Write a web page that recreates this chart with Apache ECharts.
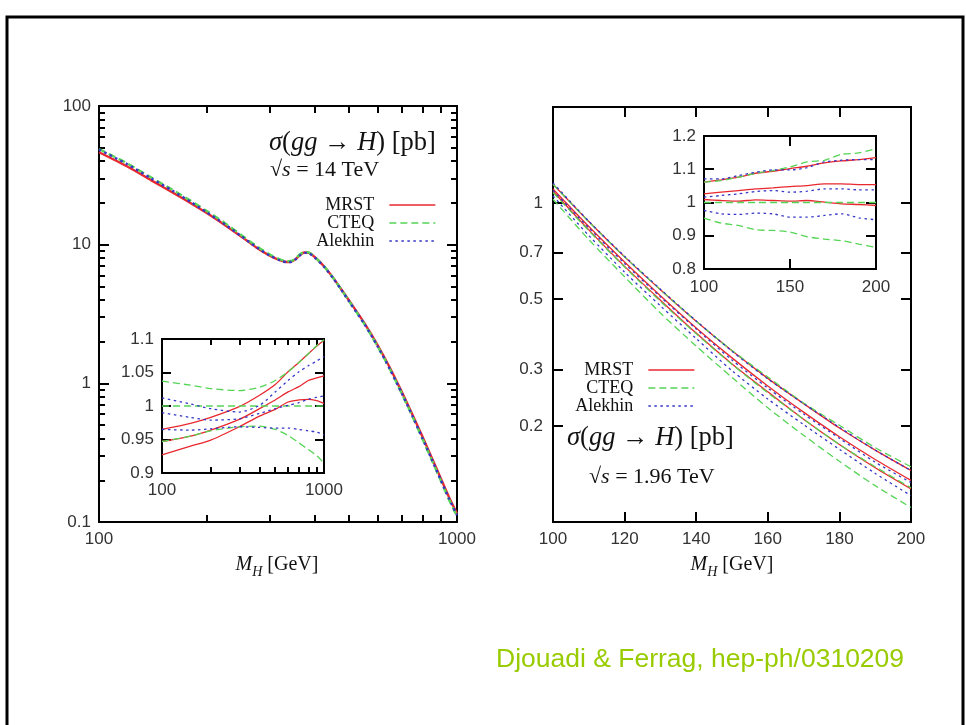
<!DOCTYPE html>
<html><head><meta charset="utf-8">
<script src="https://cdn.jsdelivr.net/npm/echarts@6/dist/echarts.min.js"></script>
<style>html,body{margin:0;padding:0;background:#fff}#c{width:966px;height:725px}</style>
</head><body><div id="c"></div><script>
// ---------- LHC, sqrt(s)=14 TeV : sigma(gg->H) [pb] ----------
const lhcMass = [100,120,140,160,180,200,225,250,275,300,320,335,345,355,365,375,385,400,425,450,475,500,550,600,650,700,750,800,850,900,950,1000];
const lhcCTEQ = [49,38.5,30.5,25,20.8,17.5,14.3,11.7,9.8,8.5,7.85,7.6,7.65,8.0,8.55,8.85,8.8,8.2,7.0,5.8,4.75,3.9,2.7,1.85,1.26,0.85,0.58,0.40,0.28,0.20,0.145,0.11];
const lhcMRST = [46.4,36.6,29.1,23.9,20.0,16.9,13.8,11.4,9.56,8.33,7.72,7.49,7.55,7.90,8.46,8.77,8.74,8.16,6.99,5.81,4.77,3.94,2.74,1.89,1.29,0.875,0.599,0.415,0.291,0.208,0.151,0.115];
const lhcAlekhin = [48.5,38.0,30.0,24.6,20.4,17.1,14.0,11.5,9.60,8.34,7.71,7.47,7.53,7.88,8.43,8.73,8.69,8.11,6.94,5.76,4.73,3.88,2.70,1.85,1.26,0.854,0.584,0.404,0.283,0.202,0.147,0.112];

// LHC ratio inset (normalised to CTEQ central)
const lhcRatioMass = [100,150,200,300,400,500,600,700,800,900,1000];
const lhcCTEQUp   = [1.037,1.031,1.026,1.023,1.028,1.038,1.051,1.065,1.078,1.090,1.099];
const lhcCTEQMid  = [1,1,1,1,1,1,1,1,1,1,1];
const lhcCTEQLow  = [0.947,0.955,0.963,0.969,0.970,0.965,0.956,0.945,0.935,0.926,0.915];
const lhcMRSTUp   = [0.965,0.974,0.983,0.999,1.016,1.032,1.051,1.065,1.078,1.089,1.098];
const lhcMRSTMid  = [0.947,0.955,0.964,0.980,0.996,1.009,1.021,1.029,1.038,1.042,1.045];
const lhcMRSTLow  = [0.927,0.940,0.949,0.969,0.985,0.995,1.006,1.009,1.010,1.008,1.004];
const lhcAlekUp   = [1.012,1.003,0.996,0.991,1.001,1.021,1.038,1.051,1.060,1.067,1.074];
const lhcAlekMid  = [0.990,0.983,0.979,0.981,0.989,0.996,1.001,1.005,1.010,1.013,1.015];
const lhcAlekLow  = [0.965,0.964,0.966,0.969,0.968,0.967,0.967,0.965,0.963,0.961,0.957];

// ---------- Tevatron, sqrt(s)=1.96 TeV ----------
const tevMass = [100,110,120,130,140,150,160,170,180,190,200];
const tevCTEQUp   = [1.145,0.873,0.678,0.535,0.426,0.345,0.285,0.236,0.201,0.171,0.149];
const tevCTEQMid  = [1.079,0.819,0.630,0.492,0.389,0.312,0.254,0.210,0.175,0.149,0.128];
const tevCTEQLow  = [1.028,0.768,0.587,0.452,0.356,0.284,0.228,0.187,0.155,0.130,0.111];
const tevMRSTUp   = [1.145,0.875,0.678,0.535,0.426,0.344,0.282,0.235,0.197,0.168,0.145];
const tevMRSTMid  = [1.107,0.844,0.653,0.512,0.406,0.327,0.267,0.221,0.185,0.157,0.135];
const tevMRSTLow  = [1.089,0.824,0.633,0.496,0.391,0.313,0.256,0.210,0.175,0.148,0.127];
const tevAlekUp   = [1.156,0.877,0.681,0.537,0.427,0.343,0.281,0.235,0.198,0.168,0.145];
const tevAlekMid  = [1.096,0.836,0.646,0.508,0.403,0.322,0.263,0.218,0.183,0.154,0.133];
const tevAlekLow  = [1.053,0.791,0.607,0.476,0.376,0.298,0.243,0.202,0.169,0.142,0.121];

// Tevatron ratio inset
const tevRCTEQUp  = [1.061,1.066,1.076,1.088,1.096,1.107,1.122,1.127,1.145,1.149,1.162];
const tevRCTEQMid = [1,1,1,1,1,1,1,1,1,1,1];
const tevRCTEQLow = [0.953,0.938,0.931,0.918,0.916,0.911,0.897,0.890,0.885,0.875,0.865];
const tevRMRSTUp  = [1.061,1.068,1.076,1.088,1.094,1.102,1.109,1.119,1.125,1.129,1.135];
const tevRMRSTMid = [1.026,1.031,1.036,1.041,1.044,1.048,1.051,1.056,1.056,1.054,1.054];
const tevRMRSTLow = [1.009,1.006,1.004,1.008,1.006,1.004,1.006,1.001,0.996,0.994,0.991];
const tevRAlekUp  = [1.071,1.071,1.081,1.091,1.098,1.098,1.105,1.122,1.127,1.129,1.129];
const tevRAlekMid = [1.016,1.021,1.026,1.033,1.036,1.031,1.034,1.041,1.041,1.038,1.038];
const tevRAlekLow = [0.976,0.966,0.964,0.968,0.966,0.956,0.956,0.961,0.966,0.954,0.948];

// ---------- ticks / labels ----------
const lhcXLabels = [100, 1000];
const lhcXMinor = [200,300,400,500,600,700,800,900];
const lhcYLabels = [0.1, 1, 10, 100];
const lhcYMinor = [0.2,0.3,0.4,0.5,0.6,0.7,0.8,0.9,2,3,4,5,6,7,8,9,20,30,40,50,60,70,80,90];
const lhcInsetYLabels = [0.9, 0.95, 1, 1.05, 1.1];
const lhcInsetYTicks = [0.95, 1, 1.05];
const tevXLabels = [100,120,140,160,180,200];
const tevXTicks = [120,140,160,180];
const tevYLabels = [0.2,0.3,0.5,0.7,1];
const tevInsetXLabels = [100,150,200];
const tevInsetXTicks = [150];
const tevInsetYLabels = [0.8,0.9,1,1.1,1.2];
const tevInsetYTicks = [0.9,1,1.1];
const pdfNames = ['MRST','CTEQ','Alekhin'];

const L = v => Math.log10(v);
const fmtLog = v => String(+Math.pow(10, v).toPrecision(3));
const fmtLin = v => String(+Number(v).toPrecision(3));
const RED = '#e8282e', GREEN = '#55d455', BLUE = '#3535c8';

function ax(o) {
  return {
    type:'value', gridIndex:o.g, position:o.pos, min:o.min, max:o.max,
    show: o.show !== false,
    axisLine:{show:false, onZero:false}, splitLine:{show:false},
    axisTick: o.ticks ? {show:true, inside:true, length:o.len||6, customValues:o.ticks, lineStyle:{color:'#000', width:2}} : {show:false},
    axisLabel: o.labels ? {show:true, customValues:o.labels, formatter:o.fmt, margin:o.margin||9,
      color:'#333', fontFamily:'Liberation Sans', fontSize:17} : {show:false}
  };
}

const xAxis = [
  ax({g:0, pos:'bottom', min:L(100), max:L(1000), ticks:lhcXMinor.map(L), len:7, labels:lhcXLabels.map(L), fmt:fmtLog, margin:9}),
  ax({g:0, pos:'top', min:L(100), max:L(1000), ticks:lhcXMinor.map(L), len:7}),
  ax({g:1, pos:'bottom', min:L(100), max:L(1000), show:false}),
  ax({g:2, pos:'bottom', min:L(100), max:L(1000), ticks:lhcXMinor.map(L), len:6, labels:lhcXLabels.map(L), fmt:fmtLog, margin:9}),
  ax({g:2, pos:'top', min:L(100), max:L(1000), ticks:lhcXMinor.map(L), len:6}),
  ax({g:3, pos:'bottom', min:100, max:200, ticks:tevXTicks, len:10, labels:tevXLabels, fmt:fmtLin, margin:9}),
  ax({g:3, pos:'top', min:100, max:200, ticks:tevXTicks, len:10}),
  ax({g:4, pos:'bottom', min:100, max:200, ticks:tevInsetXTicks, len:10, labels:tevInsetXLabels, fmt:fmtLin, margin:10}),
  ax({g:4, pos:'top', min:100, max:200, ticks:tevInsetXTicks, len:10})
];
const yAxis = [
  ax({g:0, pos:'left', min:L(0.1), max:L(100), ticks:lhcYLabels.map(L), len:10, labels:lhcYLabels.map(L), fmt:fmtLog, margin:8}),
  ax({g:0, pos:'right', min:L(0.1), max:L(100), ticks:lhcYLabels.map(L), len:10}),
  ax({g:1, pos:'left', min:L(0.1), max:L(100), ticks:lhcYMinor.map(L), len:6}),
  ax({g:1, pos:'right', min:L(0.1), max:L(100), ticks:lhcYMinor.map(L), len:6}),
  ax({g:2, pos:'left', min:0.9, max:1.1, ticks:lhcInsetYTicks, len:9, labels:lhcInsetYLabels, fmt:fmtLin, margin:8}),
  ax({g:2, pos:'right', min:0.9, max:1.1, ticks:lhcInsetYTicks, len:9}),
  ax({g:3, pos:'left', min:L(0.1), max:L(2), ticks:tevYLabels.map(L), len:10, labels:tevYLabels.map(L), fmt:fmtLog, margin:10}),
  ax({g:3, pos:'right', min:L(0.1), max:L(2), ticks:tevYLabels.map(L), len:10}),
  ax({g:4, pos:'left', min:0.8, max:1.2, ticks:tevInsetYTicks, len:10, labels:tevInsetYLabels, fmt:fmtLin, margin:8}),
  ax({g:4, pos:'right', min:0.8, max:1.2, ticks:tevInsetYTicks, len:10})
];

function ln(name, xi, yi, xs, ys, tx, ty, width, z) {
  const color = name === 'MRST' ? RED : name === 'CTEQ' ? GREEN : BLUE;
  const type = name === 'MRST' ? 'solid' : name === 'CTEQ' ? [7,4] : [2.5,3.5];
  return {
    type:'line', name, xAxisIndex:xi, yAxisIndex:yi, z,
    data: xs.map((x,i) => [tx(x), ty(ys[i])]),
    symbol:'none', showSymbol:false, smooth:0.25, silent:true,
    lineStyle:{color, type, width}, itemStyle:{color}
  };
}
const id = v => v;
const series = [
  ln('MRST', 0,0, lhcMass, lhcMRST, L, L, 2.4, 2),
  ln('CTEQ', 0,0, lhcMass, lhcCTEQ, L, L, 2.4, 3),
  ln('Alekhin', 0,0, lhcMass, lhcAlekhin, L, L, 2.4, 4),

  ln('MRST', 3,4, lhcRatioMass, lhcMRSTUp, L, id, 1.3, 2),
  ln('MRST', 3,4, lhcRatioMass, lhcMRSTMid, L, id, 1.3, 2),
  ln('MRST', 3,4, lhcRatioMass, lhcMRSTLow, L, id, 1.3, 2),
  ln('CTEQ', 3,4, lhcRatioMass, lhcCTEQUp, L, id, 1.3, 3),
  ln('CTEQ', 3,4, lhcRatioMass, lhcCTEQMid, L, id, 1.3, 3),
  ln('CTEQ', 3,4, lhcRatioMass, lhcCTEQLow, L, id, 1.3, 3),
  ln('Alekhin', 3,4, lhcRatioMass, lhcAlekUp, L, id, 1.3, 4),
  ln('Alekhin', 3,4, lhcRatioMass, lhcAlekMid, L, id, 1.3, 4),
  ln('Alekhin', 3,4, lhcRatioMass, lhcAlekLow, L, id, 1.3, 4),

  ln('MRST', 5,6, tevMass, tevMRSTUp, id, L, 1.3, 2),
  ln('MRST', 5,6, tevMass, tevMRSTMid, id, L, 1.3, 2),
  ln('MRST', 5,6, tevMass, tevMRSTLow, id, L, 1.3, 2),
  ln('CTEQ', 5,6, tevMass, tevCTEQUp, id, L, 1.3, 3),
  ln('CTEQ', 5,6, tevMass, tevCTEQMid, id, L, 1.3, 3),
  ln('CTEQ', 5,6, tevMass, tevCTEQLow, id, L, 1.3, 3),
  ln('Alekhin', 5,6, tevMass, tevAlekUp, id, L, 1.3, 4),
  ln('Alekhin', 5,6, tevMass, tevAlekMid, id, L, 1.3, 4),
  ln('Alekhin', 5,6, tevMass, tevAlekLow, id, L, 1.3, 4),

  ln('MRST', 7,8, tevMass, tevRMRSTUp, id, id, 1.3, 2),
  ln('MRST', 7,8, tevMass, tevRMRSTMid, id, id, 1.3, 2),
  ln('MRST', 7,8, tevMass, tevRMRSTLow, id, id, 1.3, 2),
  ln('CTEQ', 7,8, tevMass, tevRCTEQUp, id, id, 1.3, 3),
  ln('CTEQ', 7,8, tevMass, tevRCTEQMid, id, id, 1.3, 3),
  ln('CTEQ', 7,8, tevMass, tevRCTEQLow, id, id, 1.3, 3),
  ln('Alekhin', 7,8, tevMass, tevRAlekUp, id, id, 1.3, 4),
  ln('Alekhin', 7,8, tevMass, tevRAlekMid, id, id, 1.3, 4),
  ln('Alekhin', 7,8, tevMass, tevRAlekLow, id, id, 1.3, 4)
];

const frame = {show:true, borderColor:'#000', borderWidth:2, backgroundColor:'#fff'};
const grid = [
  Object.assign({left:99, top:106, width:358, height:416}, frame),
  {left:99, top:106, width:358, height:416, show:false},
  Object.assign({left:162, top:339, width:162, height:134}, frame),
  Object.assign({left:553, top:107, width:358, height:415}, frame),
  Object.assign({left:704, top:136, width:172, height:133}, frame)
];

const legendBase = {
  data: pdfNames, orient:'vertical', align:'right', itemWidth:46, itemHeight:14, itemGap:0,
  padding:0, selectedMode:false,
  textStyle:{fontFamily:'Liberation Serif', fontSize:18, color:'#111', lineHeight:14, padding:[0,10,0,0]},
  lineStyle:{width:1.3},
  itemStyle:{color:'transparent', borderWidth:0, opacity:0}
};
const legend = [
  Object.assign({right:530, top:196}, legendBase),
  Object.assign({right:271, top:361}, legendBase)
];

const serif = 'Liberation Serif';
function rich(size) {
  return {
    i:{fontFamily:serif, fontStyle:'italic', fontSize:size, fill:'#111', color:'#111', lineHeight:size+8},
    n:{fontFamily:serif, fontSize:size, fill:'#111', color:'#111', lineHeight:size+8},
    s:{fontFamily:serif, fontStyle:'italic', fontSize:Math.round(size*0.7), color:'#111', lineHeight:size-2, verticalAlign:'bottom'}
  };
}
function txt(x, y, text, size, align) {
  return {type:'text', x, y, silent:true, style:{text, align:align||'left', verticalAlign:'middle', rich:rich(size), fontFamily:serif, fontSize:size, fill:'#111'}};
}
const graphic = [
  {type:'rect', shape:{x:7, y:17, width:956, height:760}, style:{fill:null, stroke:'#000', lineWidth:3}, silent:true, z:-1},
  txt(269, 143, '{i|σ}{n|(}{i|gg}{n| → }{i|H}{n|) [pb]}', 26.5),
  txt(270, 170, '{n|√}{i|s}{n| = 14 TeV}', 22),
  txt(567, 438, '{i|σ}{n|(}{i|gg}{n| → }{i|H}{n|) [pb]}', 26.5),
  txt(589, 477, '{n|√}{i|s}{n| = 1.96 TeV}', 22),
  txt(277, 565, '{i|M}{s|H}{n| [GeV]}', 20, 'center'),
  txt(732, 565, '{i|M}{s|H}{n| [GeV]}', 20, 'center'),
  {type:'text', x:496, y:660, silent:true, style:{text:'Djouadi & Ferrag, hep-ph/0310209', fontFamily:'Liberation Sans', fontSize:26.5, fill:'#99cc00', verticalAlign:'middle'}}
];

const chart = echarts.init(document.getElementById('c'), null, {renderer:'canvas'});
chart.setOption({animation:false, backgroundColor:'#fff', grid, xAxis, yAxis, series, legend, graphic});
</script></body></html>
